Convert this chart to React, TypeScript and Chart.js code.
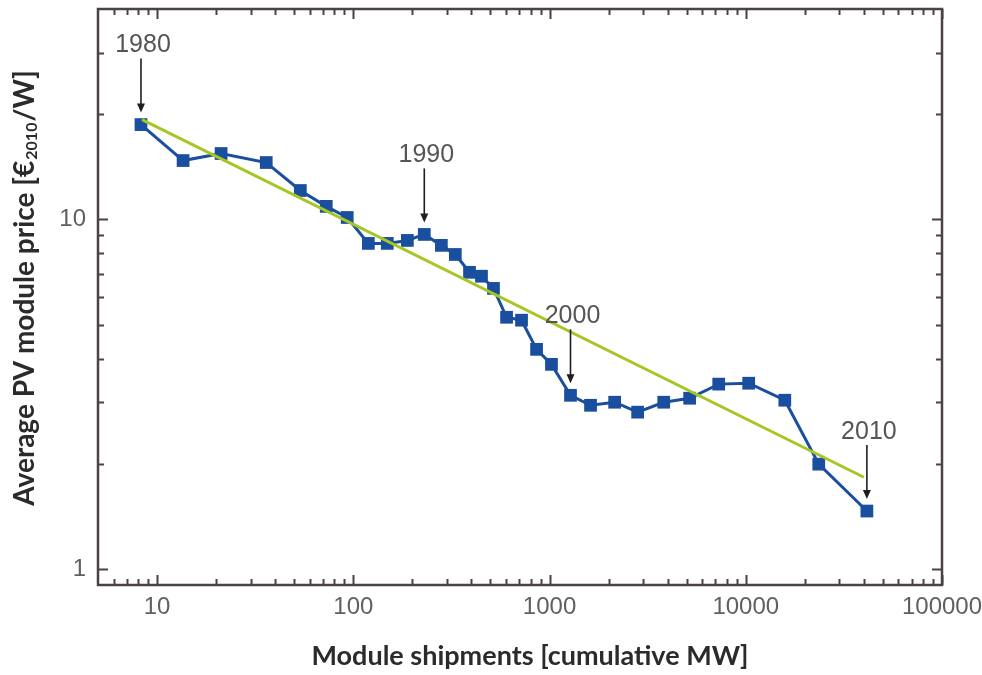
import React, { useEffect, useRef } from 'react';
import { Chart, registerables } from 'chart.js';

Chart.register(...registerables);

// ---- Data ----
const shipmentsMW = [
  8.28, 13.57, 21.2, 36.0, 53.7, 72.8, 93.1, 119.3, 149, 188.6, 230, 281, 331, 391, 450, 518,
  604, 720, 859, 1023, 1279, 1618, 2147, 2812, 3819, 5177, 7280, 10350, 15810, 23550, 41420,
];
const priceEurPerW = [
  18.68, 14.74, 15.44, 14.55, 12.1, 10.9, 10.13, 8.54, 8.54, 8.71, 9.06, 8.43, 7.94, 7.06, 6.88, 6.35,
  5.25, 5.15, 4.25, 3.85, 3.14, 2.94, 3.0, 2.81, 3.0, 3.08, 3.38, 3.4, 3.04, 1.995, 1.465,
];
const trendX = [8.38, 40000];
const trendY = [19.3, 1.83];

const annotationYears = ['1980', '1990', '2000', '2010'];
const annotationIndex = [0, 10, 20, 30];

const xTickValues = [10, 100, 1000, 10000, 100000];
const yTickValues = [1, 10];
const minorMultipliers = [2, 3, 4, 5, 6, 7, 8, 9];

const X_MIN = 5;
const X_MAX = 100000;
const Y_MIN = 0.9;
const Y_MAX = 40;

const xTitle = 'Module shipments [cumulative MW]';
const yTitleParts = ['Average PV module price [€', '2010', '/W]'];

// ---- Styles ----
const FRAME = '#4b4341';
const BLUE = '#1a4e9e';
const GREEN = '#a6c723';
const TICK_LABEL = '#606060';
const TITLE_COLOR = '#2b2b2b';
const LABEL_FONT = '"Liberation Sans", Arial, sans-serif';
const TITLE_FONT = 'Lato, "DejaVu Sans", sans-serif';

function minorValues(min: number, max: number): number[] {
  const out: number[] = [];
  for (let d = Math.floor(Math.log10(min)); d <= Math.ceil(Math.log10(max)); d++) {
    const base = Math.pow(10, d);
    for (const m of minorMultipliers) {
      const v = m * base;
      if (v > min && v < max) out.push(v);
    }
  }
  return out;
}

const decorPlugin = {
  id: 'decor',
  afterDraw(chart: any) {
    const { ctx, chartArea: a, scales } = chart;
    const xs = scales.x;
    const ys = scales.y;
    ctx.save();

    // inward ticks
    ctx.strokeStyle = FRAME;
    ctx.lineWidth = 2;
    const xTick = (v: number, len: number) => {
      const px = Math.round(xs.getPixelForValue(v)) + 0.5;
      ctx.beginPath();
      ctx.moveTo(px, a.bottom);
      ctx.lineTo(px, a.bottom - len);
      ctx.moveTo(px, a.top);
      ctx.lineTo(px, a.top + len);
      ctx.stroke();
    };
    const yTick = (v: number, len: number) => {
      const py = Math.round(ys.getPixelForValue(v)) + 0.5;
      ctx.beginPath();
      ctx.moveTo(a.left, py);
      ctx.lineTo(a.left + len, py);
      ctx.moveTo(a.right, py);
      ctx.lineTo(a.right - len, py);
      ctx.stroke();
    };
    minorValues(X_MIN, X_MAX).forEach((v) => { if (!xTickValues.includes(v)) xTick(v, 6); });
    xTickValues.forEach((v) => xTick(v, 10));
    minorValues(Y_MIN, Y_MAX).forEach((v) => { if (!yTickValues.includes(v)) yTick(v, 6); });
    yTickValues.forEach((v) => yTick(v, 10));

    // frame
    ctx.lineWidth = 2.5;
    ctx.strokeRect(a.left, a.top, a.right - a.left, a.bottom - a.top);

    // annotations (arrows + years)
    annotationYears.forEach((label, i) => {
      const idx = annotationIndex[i];
      const px = xs.getPixelForValue(shipmentsMW[idx]);
      const py = ys.getPixelForValue(priceEurPerW[idx]);
      const tip = py - 12;
      const tail = tip - 54;
      ctx.strokeStyle = '#1e1e1e';
      ctx.fillStyle = '#1e1e1e';
      ctx.lineWidth = 1.6;
      ctx.beginPath();
      ctx.moveTo(px, tail);
      ctx.lineTo(px, tip - 6);
      ctx.stroke();
      ctx.beginPath();
      ctx.moveTo(px, tip);
      ctx.lineTo(px - 4, tip - 9);
      ctx.lineTo(px + 4, tip - 9);
      ctx.closePath();
      ctx.fill();
      ctx.fillStyle = '#555555';
      ctx.font = `25px ${LABEL_FONT}`;
      ctx.textAlign = 'center';
      ctx.textBaseline = 'middle';
      ctx.fillText(label, px + 2, tail - 13);
    });

    // x title
    ctx.fillStyle = TITLE_COLOR;
    ctx.font = `bold 27px ${TITLE_FONT}`;
    ctx.textAlign = 'center';
    ctx.textBaseline = 'middle';
    ctx.fillText(xTitle, 530, 656);

    // y title (rotated, with subscript)
    ctx.save();
    ctx.translate(25, 288);
    ctx.rotate(-Math.PI / 2);
    ctx.textAlign = 'left';
    ctx.textBaseline = 'middle';
    const mainFont = `bold 28px ${TITLE_FONT}`;
    const subFont = `bold 16px ${TITLE_FONT}`;
    ctx.font = mainFont;
    const w0 = ctx.measureText(yTitleParts[0]).width;
    const w2 = ctx.measureText(yTitleParts[2]).width;
    ctx.font = subFont;
    const w1 = ctx.measureText(yTitleParts[1]).width;
    let xPos = -(w0 + w1 + w2 + 2) / 2;
    ctx.font = mainFont;
    ctx.fillText(yTitleParts[0], xPos, 0);
    xPos += w0 + 1;
    ctx.font = subFont;
    ctx.fillText(yTitleParts[1], xPos, 7);
    xPos += w1 + 1;
    ctx.font = mainFont;
    ctx.fillText(yTitleParts[2], xPos, 0);
    ctx.restore();

    ctx.restore();
  },
};

export default function App() {
  const canvasRef = useRef<HTMLCanvasElement | null>(null);

  useEffect(() => {
    if (!canvasRef.current) return;
    const chart = new Chart(canvasRef.current, {
      type: 'line',
      data: {
        datasets: [
          {
            label: 'Trend',
            data: trendX.map((x, i) => ({ x, y: trendY[i] })),
            borderColor: GREEN,
            borderWidth: 3,
            pointRadius: 0,
            fill: false,
          },
          {
            label: 'Price',
            data: shipmentsMW.map((x, i) => ({ x, y: priceEurPerW[i] })),
            borderColor: BLUE,
            borderWidth: 3,
            pointStyle: 'rect',
            pointRadius: 9,
            pointBackgroundColor: BLUE,
            pointBorderColor: BLUE,
            pointBorderWidth: 0,
            fill: false,
          },
        ],
      },
      options: {
        responsive: false,
        animation: false,
        events: [],
        layout: { padding: { left: 0, right: 40, top: 9, bottom: 0 } },
        plugins: { legend: { display: false }, tooltip: { enabled: false }, title: { display: false } },
        scales: {
          x: {
            type: 'logarithmic',
            position: 'bottom',
            min: X_MIN,
            max: X_MAX,
            grid: { display: false, drawTicks: false },
            border: { display: false },
            ticks: {
              color: TICK_LABEL,
              font: { family: LABEL_FONT, size: 24 },
              padding: 8,
              maxRotation: 0,
              autoSkip: false,
              callback: (v: any) => String(v),
            },
            afterBuildTicks: (s: any) => {
              s.ticks = xTickValues.map((v) => ({ value: v }));
            },
            afterFit: (s: any) => {
              s.height = 90;
              s.paddingLeft = 0;
              s.paddingRight = 0;
            },
          },
          y: {
            type: 'logarithmic',
            position: 'left',
            min: Y_MIN,
            max: Y_MAX,
            grid: { display: false, drawTicks: false },
            border: { display: false },
            ticks: {
              color: TICK_LABEL,
              font: { family: LABEL_FONT, size: 24 },
              padding: 12,
              autoSkip: false,
              callback: (v: any) => String(v),
            },
            afterBuildTicks: (s: any) => {
              s.ticks = yTickValues.map((v) => ({ value: v }));
            },
            afterFit: (s: any) => {
              s.width = 98;
              s.paddingTop = 0;
              s.paddingBottom = 0;
            },
          },
        },
      },
      plugins: [decorPlugin],
    } as any);
    return () => chart.destroy();
  }, []);

  return (
    <div style={{ position: 'absolute', left: 0, top: 0, width: 982, height: 675, background: '#fff' }}>
      <canvas ref={canvasRef} width={982} height={675} />
    </div>
  );
}
